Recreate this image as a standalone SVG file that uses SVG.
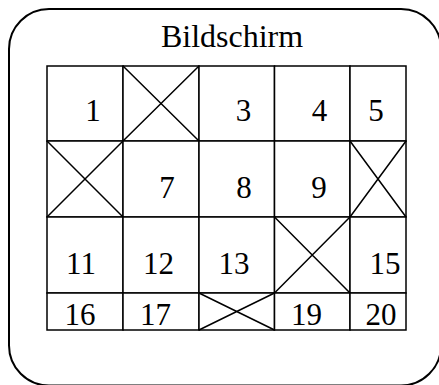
<svg xmlns="http://www.w3.org/2000/svg" width="439" height="385" viewBox="0 0 439 385">
<style>
.frame{fill:#fff;stroke:#000;stroke-width:2}
.cell{fill:#fff;stroke:#000;stroke-width:1.5}
.x{stroke:#000;stroke-width:1.5;fill:none}
text{font-family:"Liberation Serif","Times New Roman",serif;font-size:31px;fill:#000;text-anchor:middle}
</style>
<rect width="439" height="385" fill="#fff"/>
<g id="screen">
<rect class="frame" x="9" y="9" width="432" height="376.5" rx="40" ry="40"/>
<text x="232" y="47" style="font-size:32px">Bildschirm</text>
</g>
<g id="c1"><rect class="cell" x="47" y="66" width="76" height="75"/><text x="93" y="121">1</text></g>
<g id="c2"><rect class="cell" x="123" y="66" width="76" height="75"/><path class="x" d="M123 66L199 141M199 66L123 141"/></g>
<g id="c3"><rect class="cell" x="199" y="66" width="75.5" height="75"/><text x="243.5" y="121">3</text></g>
<g id="c4"><rect class="cell" x="274.5" y="66" width="75.5" height="75"/><text x="319.5" y="121">4</text></g>
<g id="c5"><rect class="cell" x="350" y="66" width="56" height="75"/><text x="376" y="121">5</text></g>
<g id="c6"><rect class="cell" x="47" y="141" width="76" height="76"/><path class="x" d="M47 141L123 217M123 141L47 217"/></g>
<g id="c7"><rect class="cell" x="123" y="141" width="76" height="76"/><text x="167" y="198">7</text></g>
<g id="c8"><rect class="cell" x="199" y="141" width="75.5" height="76"/><text x="244" y="198">8</text></g>
<g id="c9"><rect class="cell" x="274.5" y="141" width="75.5" height="76"/><text x="319" y="198">9</text></g>
<g id="c10"><rect class="cell" x="350" y="141" width="56" height="76"/><path class="x" d="M350 141L406 217M406 141L350 217"/></g>
<g id="c11"><rect class="cell" x="47" y="217" width="76" height="76"/><text x="81" y="274">11</text></g>
<g id="c12"><rect class="cell" x="123" y="217" width="76" height="76"/><text x="158.5" y="274">12</text></g>
<g id="c13"><rect class="cell" x="199" y="217" width="75.5" height="76"/><text x="234" y="274">13</text></g>
<g id="c14"><rect class="cell" x="274.5" y="217" width="75.5" height="76"/><path class="x" d="M274.5 217L350 293M350 217L274.5 293"/></g>
<g id="c15"><rect class="cell" x="350" y="217" width="56" height="76"/><text x="385" y="274">15</text></g>
<g id="c16"><rect class="cell" x="47" y="293" width="76" height="37"/><text x="80" y="325">16</text></g>
<g id="c17"><rect class="cell" x="123" y="293" width="76" height="37"/><text x="155.5" y="325">17</text></g>
<g id="c18"><rect class="cell" x="199" y="293" width="75.5" height="37"/><path class="x" d="M199 293L274.5 330M274.5 293L199 330"/></g>
<g id="c19"><rect class="cell" x="274.5" y="293" width="75.5" height="37"/><text x="306.5" y="325">19</text></g>
<g id="c20"><rect class="cell" x="350" y="293" width="56" height="37"/><text x="381" y="325">20</text></g>
<g id="connectors"></g>
</svg>
